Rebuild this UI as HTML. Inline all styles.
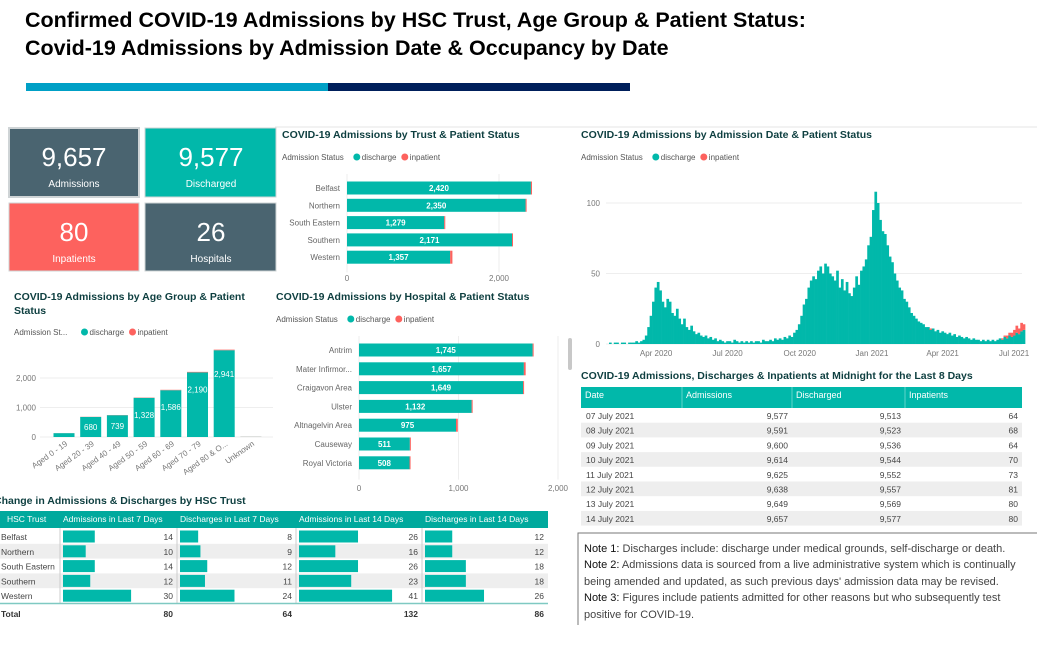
<!DOCTYPE html>
<html><head><meta charset="utf-8">
<style>
body{margin:0;background:#fff;width:1037px;height:640px;overflow:hidden;font-family:"Liberation Sans",sans-serif;}
svg text{font-family:"Liberation Sans",sans-serif;}
</style></head>
<body>
<svg id="s" width="1037" height="640" viewBox="0 0 1037 640" xmlns="http://www.w3.org/2000/svg">
<text x="25" y="27" font-size="21.5" font-weight="bold" fill="#000">Confirmed COVID-19 Admissions by HSC Trust, Age Group &amp; Patient Status:</text>
<text x="25" y="55" font-size="21.5" font-weight="bold" fill="#000">Covid-19 Admissions by Admission Date &amp; Occupancy by Date</text>
<rect x="26" y="83" width="302" height="8" fill="#00a0c6"/>
<rect x="328" y="83" width="302" height="8" fill="#001f5b"/>
<line x1="275" y1="127" x2="1037" y2="127" stroke="#e4e4e4"/>

<g>
<rect x="9" y="128" width="130" height="69" fill="#4a6470" stroke="#cfd4d6" stroke-width="2"/>
<text x="74" y="166" font-size="26" fill="#fff" text-anchor="middle">9,657</text>
<text x="74" y="187" font-size="10" fill="#fff" text-anchor="middle">Admissions</text></g>
<g>
<rect x="145" y="128" width="131" height="69" fill="#01b8aa" stroke="#cfd4d6" stroke-width="1"/>
<text x="211" y="166" font-size="26" fill="#fff" text-anchor="middle">9,577</text>
<text x="211" y="187" font-size="10" fill="#fff" text-anchor="middle">Discharged</text></g>
<g>
<rect x="9" y="203" width="130" height="68" fill="#fd625e" stroke="#cfd4d6" stroke-width="1"/>
<text x="74" y="241" font-size="26" fill="#fff" text-anchor="middle">80</text>
<text x="74" y="262" font-size="10" fill="#fff" text-anchor="middle">Inpatients</text></g>
<g>
<rect x="145" y="203" width="131" height="68" fill="#4a6470" stroke="#cfd4d6" stroke-width="1"/>
<text x="211" y="241" font-size="26" fill="#fff" text-anchor="middle">26</text>
<text x="211" y="262" font-size="10" fill="#fff" text-anchor="middle">Hospitals</text></g>

<g id="trust"></g>
<g id="age"></g>
<g id="hosp"></g>
<g id="date"></g>
<g id="tbl1"></g>
<g id="tbl2"></g>

<rect x="568" y="338" width="4" height="32" rx="2" fill="#c8c8c8"/>

<g>
<path d="M578 625 L578 533 L1037 533" fill="none" stroke="#777" stroke-width="1"/>
<text x="584" y="552" font-size="11" fill="#444"><tspan fill="#111">Note 1:</tspan> Discharges include: discharge under medical grounds, self-discharge or death.</text>
<text x="584" y="568" font-size="11" fill="#444"><tspan fill="#111">Note 2:</tspan> Admissions data is sourced from a live administrative system which is continually</text>
<text x="584" y="585" font-size="11" fill="#444">being amended and updated, as such previous days' admission data may be revised.</text>
<text x="584" y="601" font-size="11" fill="#444"><tspan fill="#111">Note 3:</tspan> Figures include patients admitted for other reasons but who subsequently test</text>
<text x="584" y="618" font-size="11" fill="#444">positive for COVID-19.</text>
</g>
</svg>
<script>
const NS="http://www.w3.org/2000/svg";
const TEAL="#01b8aa", RED="#fd625e", TITLE="#0e3f40";
function mk(p,tag,a,txt){const e=document.createElementNS(NS,tag);for(const k in a)e.setAttribute(k,a[k]);if(txt!==undefined)e.textContent=txt;p.appendChild(e);return e;}
function fmt(v){return v.toLocaleString('en-US');}
function legend(g,x,y,label){
  const t=mk(g,'text',{x:x,y:y,'font-size':8,fill:'#555'},label);
  
  
  const w=label.length*4.3+6;
  const d=mk(g,'circle',{cx:x+w,cy:y-3,r:3.5,fill:TEAL});
  
  
  const dt=mk(g,'text',{x:x+w+5,y:y,'font-size':8,fill:'#555'},'discharge');
  
  
  const r=mk(g,'circle',{cx:x+w+48,cy:y-3,r:3.5,fill:RED});
  
  
  const rt=mk(g,'text',{x:x+w+53,y:y,'font-size':8,fill:'#555'},'inpatient');
  
  
}

/* ---- Trust chart data ---- */
const trustNames=["Belfast","Northern","South Eastern","Southern","Western"];
const trustDis=[2420,2350,1279,2171,1357];
const trustInp=[14,10,14,12,30];
const trustTicks=[0,2000];
/* ---- Age chart data ---- */
const ageNames=["Aged 0 - 19","Aged 20 - 39","Aged 40 - 49","Aged 50 - 59","Aged 60 - 69","Aged 70 - 79","Aged 80 & O...","Unknown"];
const ageDis=[130,680,739,1328,1586,2190,2941,5];
const ageInp=[2,6,6,10,14,18,20,4];
const ageTicks=[0,1000,2000];
/* ---- Hospital chart data ---- */
const hospNames=["Antrim","Mater Infirmor...","Craigavon Area","Ulster","Altnagelvin Area","Causeway","Royal Victoria"];
const hospDis=[1745,1657,1649,1132,975,511,508];
const hospInp=[4,18,8,6,18,2,2];
const hospTicks=[0,1000,2000];
/* ---- Date chart data (3-day buckets from 1 Feb 2020) ---- */
const dateDis=[1,0,1,1,0,1,1,0,1,1, 1,2,1,2,3,6,12,20,30,40, 44,38,30,26,32,30,22,20,25,18, 14,18,12,10,13,9,7,8,6,5,
 6,4,5,3,4,2,3,2,1,2, 2,1,3,2,1,2,1,2,1,2, 1,2,2,1,3,2,2,3,2,4, 3,4,3,5,4,6,5,8,10,14,
 20,28,32,40,45,48,46,52,55,50, 57,55,50,48,45,52,40,46,38,44, 36,34,40,48,42,52,55,60,70,76,
 95,108,100,88,80,78,70,62,58,50, 45,40,38,32,30,26,22,20,18, 16,15,14,12,12,10,11,9,10,8,
 9,8,7,8,6,7,5,6,5,4, 5,4,3,4,3,3,2,3,2,3, 2,3,2,3,4,3,5,4,6,5, 6,8,7,9,10];
const dateInp=[0,0,0,0,0,0,0,0,0,0, 0,0,0,0,0,0,0,0,0,0, 0,0,0,0,0,0,0,0,0,0, 0,0,0,0,0,0,0,0,0,0,
 0,0,0,0,0,0,0,0,0,0, 0,0,0,0,0,0,0,0,0,0, 0,0,0,0,0,0,0,0,0,0, 0,0,0,0,0,0,0,0,0,0,
 0,0,0,0,0,0,0,0,0,0, 0,0,0,0,0,0,0,0,0,0, 0,0,0,0,0,0,0,0,0,0,
 0,0,0,0,0,0,0,0,0,0, 0,0,0,0,0,0,0,0,0, 0,0,0,0,0,1,0,0,0,0,
 0,0,0,0,0,0,0,0,0,0, 0,0,0,0,0,0,0,0,0,0, 0,0,0,0,0,1,1,2,2,3, 4,5,4,6,4];
const dateTicks=[0,50,100];
const dateLabels=["Apr 2020","Jul 2020","Oct 2020","Jan 2021","Apr 2021","Jul 2021"];
const dateLabelDay=[60,151,243,335,425,516];
/* ---- Table 1 data ---- */
const t1Trusts=["Belfast","Northern","South Eastern","Southern","Western"];
const t1Adm7=[14,10,14,12,30];
const t1Dis7=[8,9,12,11,24];
const t1Adm14=[26,16,26,23,41];
const t1Dis14=[12,12,18,18,26];
/* ---- Table 2 data ---- */
const t2Dates=["07 July 2021","08 July 2021","09 July 2021","10 July 2021","11 July 2021","12 July 2021","13 July 2021","14 July 2021"];
const t2Adm=[9577,9591,9600,9614,9625,9638,9649,9657];
const t2Dis=[9513,9523,9536,9544,9552,9557,9569,9577];
const t2Inp=[64,68,64,70,73,81,80,80];

function hbar(g,title,tx,ty,ly,names,dis,inp,ticks,x0,pxPer,y0,step,bh,labY,lblX,prefix){
  const t=mk(g,'text',{x:tx,y:ty,'font-size':10.5,'font-weight':'bold',fill:TITLE},title);
  
  
  legend(g,tx,ly,'Admission Status');
  const X=v=>x0+v*pxPer;
  ticks.forEach(v=>{
    const gl=mk(g,'line',{x1:X(v),x2:X(v),y1:y0-14,y2:y0+step*names.length-2,stroke:'#eee'});
    
    
    const tl=mk(g,'text',{x:X(v),y:labY,'font-size':8,fill:'#777','text-anchor':'middle'},fmt(v));
    
    
  });
  names.forEach((n,i)=>{
    const y=y0+i*step;
    const l=mk(g,'text',{x:lblX,y:y+3,'font-size':8,fill:'#666','text-anchor':'end'},n);
    
    
    const b=mk(g,'rect',{x:X(0),y:y-bh/2,width:dis[i]*pxPer,height:bh,fill:TEAL});
    
    
    const r=mk(g,'rect',{x:X(dis[i]),y:y-bh/2,width:Math.max(1,inp[i]*pxPer),height:bh,fill:RED});
    
    
    const v=mk(g,'text',{x:X(dis[i]/2),y:y+3,'font-size':8,'font-weight':'bold',fill:'#fff','text-anchor':'middle'},fmt(dis[i]));
    
    
  });
}
hbar(document.getElementById('trust'),'COVID-19 Admissions by Trust & Patient Status',282,138,160,trustNames,trustDis,trustInp,trustTicks,347,152/2000,188,17.3,13,281,340,'trust');
hbar(document.getElementById('hosp'),'COVID-19 Admissions by Hospital & Patient Status',276,300,322,hospNames,hospDis,hospInp,hospTicks,359,0.0995,350,18.8,13,491,352,'hospital');

(function(){
  const g=document.getElementById('age');
  const t1=mk(g,'text',{x:14,y:300,'font-size':10.5,'font-weight':'bold',fill:TITLE},'COVID-19 Admissions by Age Group & Patient');
  
  
  const t2=mk(g,'text',{x:14,y:314,'font-size':10.5,'font-weight':'bold',fill:TITLE},'Status');
  
  
  legend(g,14,335,'Admission St...');
  const Y=v=>437-v*0.0295;
  ageTicks.forEach(v=>{
    const gl=mk(g,'line',{x1:40,x2:273,y1:Y(v),y2:Y(v),stroke:'#eee'});
    
    
    const tl=mk(g,'text',{x:36,y:Y(v)+3,'font-size':8,fill:'#777','text-anchor':'end'},fmt(v));
    
    
  });
  const X=i=>64+i*26.7;
  ageNames.forEach((n,i)=>{
    const cx=X(i),w=21;
    const b=mk(g,'rect',{x:cx-w/2,y:Y(ageDis[i]),width:w,height:ageDis[i]*0.0295,fill:TEAL});
    
    
    const r=mk(g,'rect',{x:cx-w/2,y:Y(ageDis[i]+ageInp[i]),width:w,height:ageInp[i]*0.0295,fill:RED});
    
    
    if(ageDis[i]>500){
      const inside=ageDis[i]>1200;
      const v=mk(g,'text',{x:cx,y:inside?Y(ageDis[i])+(ageDis[i]>2500?27:20):Y(ageDis[i]/2)+3,'font-size':8,fill:'#fff','text-anchor':'middle'},fmt(ageDis[i]));
      
      
    }
    const l=mk(g,'text',{x:cx+4,y:445,'font-size':8,fill:'#777','text-anchor':'end',transform:`rotate(-35 ${cx+4} 445)`},n);
    
    
  });
})();

(function(){
  const g=document.getElementById('date');
  const t=mk(g,'text',{x:581,y:138,'font-size':10.5,'font-weight':'bold',fill:TITLE},'COVID-19 Admissions by Admission Date & Patient Status');
  
  
  legend(g,581,160,'Admission Status');
  const Y=v=>344-v*1.41;
  const pxDay=0.785, x0=609;
  const X=d=>x0+d*pxDay;
  dateTicks.forEach(v=>{
    const gl=mk(g,'line',{x1:606,x2:1022,y1:Y(v),y2:Y(v),stroke:'#eee'});
    
    
    const tl=mk(g,'text',{x:600,y:Y(v)+3,'font-size':8,fill:'#777','text-anchor':'end'},v);
    
    
  });
  dateLabels.forEach((s,i)=>{
    const tl=mk(g,'text',{x:X(dateLabelDay[i]),y:356,'font-size':8,fill:'#777','text-anchor':'middle'},s);
    
    
  });
  const days=530/dateDis.length;
  dateDis.forEach((v,i)=>{
    const x=X(i*days), w=days*pxDay+0.3;
    const b=mk(g,'rect',{x:x,y:Y(v),width:w,height:v*1.41,fill:TEAL});
    
    
    if(dateInp[i]>0){
      const r=mk(g,'rect',{x:x,y:Y(v+dateInp[i]),width:w,height:dateInp[i]*1.41,fill:RED});
      
      
    }
  });
})();

(function(){
  const g=document.getElementById('tbl1');
  const t=mk(g,'text',{x:-6,y:504,'font-size':10.5,'font-weight':'bold',fill:TITLE},'Change in Admissions & Discharges by HSC Trust');
  
  
  const hdr=mk(g,'rect',{x:0,y:511,width:548,height:17,fill:'#00a99d'});
  
  
  const cols=[0,60,177,296,422,548];
  const heads=["HSC Trust","Admissions in Last 7 Days","Discharges in Last 7 Days","Admissions in Last 14 Days","Discharges in Last 14 Days"];
  heads.forEach((h,i)=>{
    const ht=mk(g,'text',{x:cols[i]+(i==0?7:3),y:522,'font-size':8.5,fill:'#fff'},h);
    
    
  });
  const data=[t1Adm7,t1Dis7,t1Adm14,t1Dis14];
  t1Trusts.forEach((n,r)=>{
    const y=529+r*14.8;
    if(r%2==1){const bg=mk(g,'rect',{x:0,y:y,width:548,height:14.8,fill:'#eee'});
      
      }
    const nt=mk(g,'text',{x:1,y:y+11,'font-size':8.5,fill:'#444'},n);
    
    
    data.forEach((arr,c)=>{
      const b=mk(g,'rect',{x:cols[c+1]+3,y:y+1.5,width:arr[r]*2.27,height:12,fill:TEAL});
      
      
      const v=mk(g,'text',{x:cols[c+2]-4,y:y+11,'font-size':8.5,fill:'#444','text-anchor':'end'},arr[r]);
      
      
    });
  });
  [60,177,296,422].forEach(cx=>{
    const vl=mk(g,'line',{x1:cx,x2:cx,y1:528,y2:603,stroke:'#ccc'});
    
    
  });
  const ln=mk(g,'line',{x1:0,x2:548,y1:603.5,y2:603.5,stroke:'#7fc9c2','stroke-width':1.5});
  
  
  const tt=mk(g,'text',{x:1,y:617,'font-size':8.5,'font-weight':'bold',fill:'#333'},'Total');
  
  
  data.forEach((arr,c)=>{
    const v=mk(g,'text',{x:cols[c+2]-4,y:617,'font-size':8.5,'font-weight':'bold',fill:'#333','text-anchor':'end'},arr.reduce((a,b)=>a+b,0));
    
    
  });
})();

(function(){
  const g=document.getElementById('tbl2');
  const t=mk(g,'text',{x:581,y:379,'font-size':10.5,'font-weight':'bold',fill:TITLE},'COVID-19 Admissions, Discharges & Inpatients at Midnight for the Last 8 Days');
  
  
  const hdr=mk(g,'rect',{x:581,y:387,width:441,height:21,fill:TEAL});
  
  
  const cols=[581,682,792,905,1022];
  ["Date","Admissions","Discharged","Inpatients"].forEach((h,i)=>{
    const ht=mk(g,'text',{x:cols[i]+4,y:398,'font-size':9,fill:'#fff'},h);
    
    
    if(i>0){const sl=mk(g,'line',{x1:cols[i],x2:cols[i],y1:387,y2:408,stroke:'#5fd3c9'});
      
      }
  });
  t2Dates.forEach((d,r)=>{
    const y=408+r*14.7;
    if(r%2==1){const bg=mk(g,'rect',{x:581,y:y,width:441,height:14.7,fill:'#eee'});
      
      }
    const vals=[d,fmt(t2Adm[r]),fmt(t2Dis[r]),t2Inp[r]];
    vals.forEach((v,c)=>{
      const tx=mk(g,'text',{x:c==0?586:cols[c+1]-4,y:y+11,'font-size':8.5,fill:'#444','text-anchor':c==0?'start':'end'},v);
      
      
    });
  });
})();
</script>
</body></html>
